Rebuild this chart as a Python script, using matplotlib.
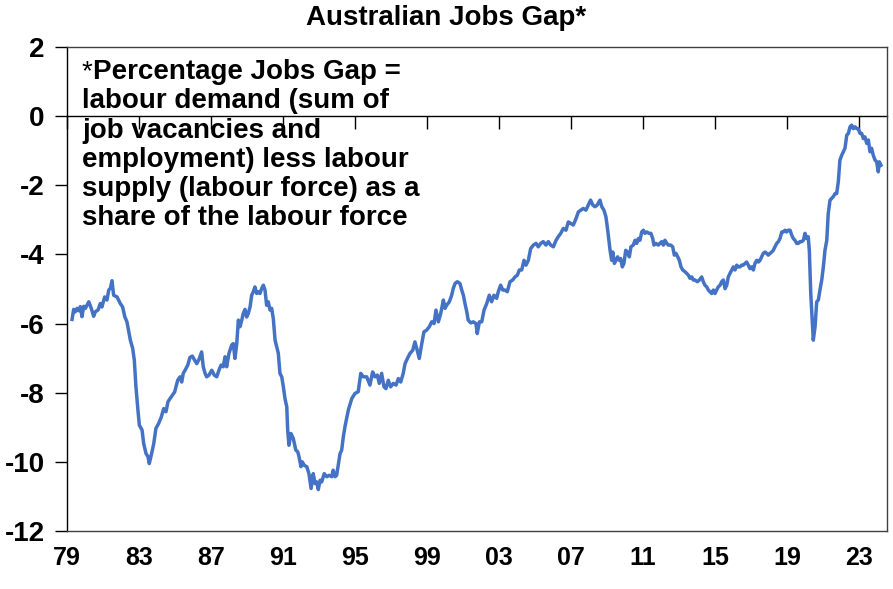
import matplotlib
matplotlib.use("Agg")
import matplotlib.pyplot as plt
from matplotlib import font_manager as fm

# ---- data (decimal year, % of labour force) ----
dates = [
    1979.28, 1979.37, 1979.46, 1979.56, 1979.65, 1979.74, 1979.83, 1979.93, 1980.02, 1980.21,
    1980.35, 1980.48, 1980.57, 1980.72, 1980.85, 1980.94, 1981.09, 1981.22, 1981.32, 1981.41,
    1981.50, 1981.59, 1981.78, 1981.96, 1982.09, 1982.21, 1982.33, 1982.52, 1982.65, 1982.74,
    1982.83, 1982.94, 1983.02, 1983.17, 1983.26, 1983.39, 1983.50, 1983.57, 1983.68, 1983.82,
    1983.94, 1984.09, 1984.24, 1984.37, 1984.50, 1984.61, 1984.79, 1984.98,
    1985.15, 1985.28, 1985.37, 1985.46, 1985.56, 1985.71, 1985.83, 1985.96, 1986.07, 1986.21,
    1986.33, 1986.48, 1986.57, 1986.67, 1986.76, 1986.89, 1987.04, 1987.18, 1987.32, 1987.44,
    1987.56, 1987.68, 1987.78, 1987.87, 1988.00, 1988.15, 1988.24, 1988.33, 1988.43, 1988.52,
    1988.61, 1988.71, 1988.79, 1988.89, 1988.98, 1989.07, 1989.17, 1989.26, 1989.35, 1989.44,
    1989.54, 1989.63, 1989.72, 1989.82, 1989.91, 1990.00, 1990.09, 1990.18, 1990.28, 1990.37,
    1990.46, 1990.56, 1990.65, 1990.74, 1990.83, 1990.93, 1991.02, 1991.11,
    1991.21, 1991.26, 1991.33, 1991.44, 1991.57, 1991.71, 1991.82, 1991.89, 1992.00, 1992.07,
    1992.18, 1992.32, 1992.44, 1992.56, 1992.68, 1992.78, 1992.87, 1992.96, 1993.06, 1993.15,
    1993.29, 1993.43, 1993.56, 1993.71, 1993.79, 1993.89, 1993.98, 1994.07, 1994.17, 1994.26,
    1994.35,
    1994.44, 1994.63, 1994.82, 1995.00, 1995.18, 1995.32, 1995.46, 1995.65, 1995.83, 1995.98,
    1996.11, 1996.24, 1996.35, 1996.48, 1996.61, 1996.72, 1996.85, 1996.98, 1997.13, 1997.28,
    1997.41, 1997.54, 1997.68, 1997.78, 1997.91, 1998.06, 1998.21, 1998.33, 1998.43, 1998.57,
    1998.71, 1998.83, 1998.98, 1999.13, 1999.26, 1999.39, 1999.50, 1999.63, 1999.76, 1999.91,
    2000.00, 2000.09, 2000.24, 2000.37, 2000.46, 2000.56, 2000.68, 2000.83, 2000.93, 2001.02,
    2001.11, 2001.21, 2001.29, 2001.43, 2001.57, 2001.72, 2001.79, 2001.91, 2002.04, 2002.17,
    2002.32, 2002.46, 2002.59, 2002.72, 2002.87, 2002.96, 2003.09, 2003.21, 2003.33, 2003.46,
    2003.61, 2003.76, 2003.89, 2004.02, 2004.13, 2004.26, 2004.39, 2004.50, 2004.63, 2004.76,
    2004.91, 2005.06, 2005.18, 2005.32, 2005.46, 2005.61, 2005.74, 2005.87, 2006.02, 2006.17,
    2006.29, 2006.43, 2006.57, 2006.72, 2006.85, 2006.98, 2007.13, 2007.28, 2007.41, 2007.54,
    2007.68, 2007.83, 2007.96, 2008.09, 2008.21, 2008.33, 2008.46, 2008.61, 2008.71, 2008.83,
    2008.94, 2009.04, 2009.17,
    2009.26, 2009.32, 2009.41, 2009.50, 2009.59, 2009.68, 2009.76, 2009.85, 2009.94, 2010.04,
    2010.13, 2010.24, 2010.33, 2010.46, 2010.56, 2010.65, 2010.74, 2010.83, 2010.93, 2011.02,
    2011.11, 2011.21, 2011.33, 2011.44, 2011.54, 2011.61, 2011.72, 2011.85, 2011.94, 2012.04,
    2012.13, 2012.22, 2012.32, 2012.41, 2012.54, 2012.65, 2012.74, 2012.83, 2012.93, 2013.02,
    2013.11, 2013.21, 2013.33, 2013.43, 2013.52, 2013.61, 2013.71, 2013.79, 2013.89, 2014.02,
    2014.13, 2014.26, 2014.35, 2014.44, 2014.54, 2014.63, 2014.72, 2014.82, 2014.91, 2015.00,
    2015.09, 2015.18, 2015.28, 2015.37, 2015.46, 2015.56, 2015.65, 2015.74, 2015.83, 2015.93,
    2016.02, 2016.11, 2016.21, 2016.29, 2016.39, 2016.48, 2016.57, 2016.67, 2016.76, 2016.85,
    2016.94, 2017.04, 2017.13, 2017.22, 2017.32, 2017.41, 2017.50, 2017.59, 2017.68, 2017.78,
    2017.87, 2017.96, 2018.06, 2018.15, 2018.24, 2018.33, 2018.43, 2018.52, 2018.61, 2018.71,
    2018.79, 2018.89, 2018.98, 2019.07, 2019.17, 2019.26, 2019.35, 2019.44, 2019.54, 2019.63,
    2019.72, 2019.82, 2019.91, 2020.00, 2020.09, 2020.18, 2020.24, 2020.32, 2020.39, 2020.46,
    2020.56, 2020.65, 2020.74, 2020.83, 2020.93, 2021.02, 2021.11, 2021.21, 2021.29, 2021.39,
    2021.48, 2021.57, 2021.67, 2021.76, 2021.85, 2021.94, 2022.04, 2022.13, 2022.22, 2022.32,
    2022.41, 2022.50, 2022.59, 2022.68, 2022.78, 2022.87, 2022.96, 2023.06, 2023.15, 2023.24,
    2023.33, 2023.43, 2023.52, 2023.61, 2023.70, 2023.79, 2023.89, 2023.98, 2024.07, 2024.13,
    2024.22,
]

jobs_gap = [
    -5.88, -5.59, -5.66, -5.56, -5.63, -5.51, -5.80, -5.50, -5.56, -5.37,
    -5.56, -5.79, -5.66, -5.61, -5.42, -5.52, -5.23, -5.32, -5.03, -4.98,
    -4.76, -5.18, -5.23, -5.42, -5.52, -5.80, -5.95, -6.48, -6.72, -7.06,
    -7.83, -8.50, -8.94, -9.08, -9.47, -9.76, -9.85, -10.05, -9.81, -9.47,
    -9.03, -8.89, -8.70, -8.46, -8.55, -8.26, -8.12, -7.98,
    -7.64, -7.54, -7.69, -7.44, -7.35, -7.20, -6.98, -6.94, -7.04, -7.16,
    -7.04, -6.82, -7.25, -7.44, -7.54, -7.49, -7.35, -7.49, -7.54, -7.35,
    -7.20, -7.25, -6.96, -7.25, -6.86, -6.62, -6.58, -7.01, -6.58, -5.90,
    -6.09, -5.90, -5.71, -5.59, -5.81, -5.71, -5.52, -5.18, -5.08, -4.94,
    -5.13, -5.08, -5.13, -4.98, -4.89, -5.03, -5.47, -5.37, -5.61, -5.56,
    -5.85, -6.48, -6.67, -6.86, -7.44, -7.54, -7.83, -8.17,
    -8.41, -9.08, -9.52, -9.18, -9.32, -9.66, -9.71, -9.85, -10.14, -10.00,
    -10.10, -10.14, -10.34, -10.77, -10.34, -10.63, -10.58, -10.80, -10.53, -10.58,
    -10.34, -10.43, -10.39, -10.43, -10.24, -10.43, -10.39, -10.10, -9.76, -9.66,
    -9.28,
    -8.99, -8.50, -8.17, -8.02, -7.97, -7.44, -7.54, -7.54, -7.78, -7.40,
    -7.54, -7.49, -7.73, -7.44, -7.83, -7.88, -7.64, -7.83, -7.73, -7.78,
    -7.59, -7.69, -7.44, -7.16, -7.01, -6.86, -6.77, -6.53, -6.72, -7.01,
    -6.58, -6.24, -6.19, -6.09, -5.95, -6.00, -5.61, -5.95, -5.71, -5.32,
    -5.56, -5.47, -5.37, -5.18, -4.98, -4.84, -4.79, -4.84, -5.03, -5.18,
    -5.42, -5.66, -5.90, -5.98, -5.95, -6.00, -6.29, -5.95, -5.95, -5.61,
    -5.42, -5.18, -5.37, -5.18, -5.27, -5.08, -4.89, -5.03, -5.03, -5.08,
    -4.79, -4.74, -4.65, -4.60, -4.45, -4.45, -4.17, -4.31, -4.17, -3.83,
    -3.73, -3.68, -3.78, -3.68, -3.63, -3.73, -3.63, -3.73, -3.78, -3.59,
    -3.49, -3.39, -3.25, -3.30, -3.06, -3.10, -3.15, -2.96, -2.77, -2.72,
    -2.67, -2.72, -2.57, -2.43, -2.57, -2.62, -2.57, -2.43, -2.62, -2.72,
    -2.91, -3.30, -3.88,
    -4.17, -3.93, -4.26, -4.17, -4.07, -4.17, -4.12, -4.36, -4.26, -3.88,
    -3.93, -4.07, -3.78, -3.73, -3.59, -3.68, -3.54, -3.59, -3.35, -3.30,
    -3.39, -3.35, -3.39, -3.39, -3.54, -3.73, -3.68, -3.73, -3.68, -3.63,
    -3.73, -3.59, -3.68, -3.73, -3.73, -3.78, -4.02, -3.97, -4.07, -4.17,
    -4.36, -4.45, -4.50, -4.55, -4.60, -4.69, -4.65, -4.74, -4.74, -4.79,
    -4.74, -4.65, -4.79, -4.89, -4.94, -5.03, -5.08, -5.13, -5.03, -5.13,
    -5.03, -4.94, -4.89, -4.79, -4.74, -4.99, -4.89, -4.65, -4.55, -4.45,
    -4.36, -4.45, -4.31, -4.36, -4.36, -4.31, -4.31, -4.26, -4.22, -4.31,
    -4.41, -4.36, -4.45, -4.26, -4.17, -4.22, -4.17, -4.07, -3.97, -3.93,
    -3.97, -4.02, -3.97, -3.93, -3.88, -3.78, -3.68, -3.63, -3.54, -3.35,
    -3.35, -3.30, -3.35, -3.30, -3.30, -3.44, -3.54, -3.59, -3.68, -3.68,
    -3.63, -3.63, -3.59, -3.39, -3.54, -3.49, -3.88, -5.13, -5.80, -6.48,
    -6.09, -5.37, -5.32, -5.03, -4.74, -4.36, -3.88, -3.59, -2.82, -2.43,
    -2.38, -2.33, -2.24, -2.24, -1.90, -1.27, -1.13, -1.03, -0.93, -0.55,
    -0.50, -0.31, -0.26, -0.36, -0.31, -0.36, -0.36, -0.50, -0.50, -0.65,
    -0.60, -0.79, -0.69, -1.03, -0.93, -1.13, -1.27, -1.32, -1.61, -1.32,
    -1.42,
]

x_tick_years = [1979, 1983, 1987, 1991, 1995, 1999, 2003, 2007, 2011, 2015, 2019, 2023]
x_tick_labels = ["79", "83", "87", "91", "95", "99", "03", "07", "11", "15", "19", "23"]
y_ticks = [2, 0, -2, -4, -6, -8, -10, -12]
y_tick_labels = ["2", "0", "-2", "-4", "-6", "-8", "-10", "-12"]

title_text = "Australian Jobs Gap*"
note_star = "*"
note_first = "Percentage Jobs Gap ="
note_rest = ("labour demand (sum of\njob vacancies and\n"
             "employment) less labour\nsupply (labour force) as a\nshare of the labour force")

# ---- fonts ----
names = {f.name for f in fm.fontManager.ttflist}
base = "Liberation Sans" if "Liberation Sans" in names else "DejaVu Sans"
if "Liberation Sans Narrow" in names:
    narrow, xsize = "Liberation Sans Narrow", 22
else:
    narrow, xsize = base, 18

W, H = 893, 589
fig = plt.figure(figsize=(W / 100, H / 100), dpi=100)
ax = fig.add_axes([67 / W, 1 - 531 / H, 820 / W, 484 / H])

ax.plot(dates, jobs_gap, color="#4472C4", lw=2.5, solid_joinstyle="round", zorder=3)

ax.set_xlim(1979, 1979 + 820 / 18)
ax.set_ylim(-12, 2)

ax.set_yticks(y_ticks)
ax.set_yticklabels(y_tick_labels, fontfamily=base, fontweight="bold", fontsize=20)
ax.tick_params(axis="y", direction="out", length=9, width=1, pad=7, colors="black")

ax.set_xticks(x_tick_years)
ax.set_xticklabels(x_tick_labels, fontfamily=narrow, fontweight="bold", fontsize=xsize)
ax.tick_params(axis="x", length=0, pad=11)

for s in ["top", "right", "bottom"]:
    ax.spines[s].set_color("#404040")
    ax.spines[s].set_linewidth(1)
ax.spines["left"].set_color("black")
ax.spines["left"].set_linewidth(1)

# zero line with downward tick marks
sec = ax.secondary_xaxis(12 / 14)
sec.set_xticks(x_tick_years)
sec.tick_params(axis="x", direction="in", length=9, width=1, labeltop=False,
                labelbottom=False, colors="black")
for sp in sec.spines.values():
    sp.set_color("black")
    sp.set_linewidth(1)

fig.text(0.5, 1 - 18 / H, title_text, ha="center", va="center",
         fontfamily=base, fontweight="bold", fontsize=20)

# footnote: regular-weight star, bold text
line_top = 59
line_step = 29.4
star = fig.text(82 / W, 1 - line_top / H, note_star, ha="left", va="top",
                fontfamily=base, fontweight="normal", fontsize=20, zorder=5)
fig.canvas.draw()
bb = star.get_window_extent(renderer=fig.canvas.get_renderer())
fig.text((bb.x1 + 0.5) / W, 1 - line_top / H, note_first, ha="left", va="top",
         fontfamily=base, fontweight="bold", fontsize=20, zorder=5)
fig.text(82 / W, 1 - (line_top + line_step) / H, note_rest, ha="left", va="top",
         fontfamily=base, fontweight="bold", fontsize=20, linespacing=1.16, zorder=5)

fig.savefig("out.png", dpi=100)
